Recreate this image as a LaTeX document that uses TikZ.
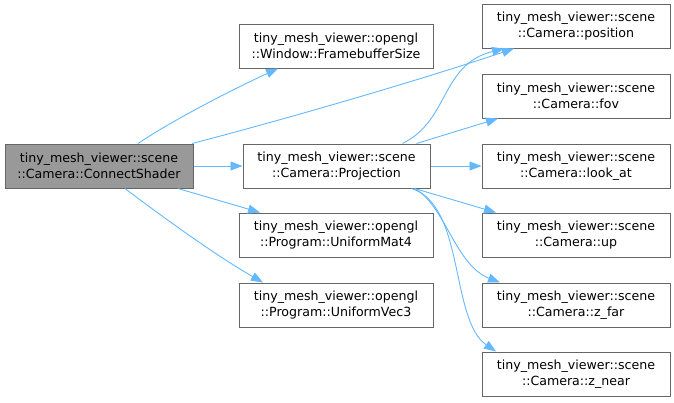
\documentclass[tikz,border=0pt]{standalone}
\usepackage{fontspec}
\setmainfont{DejaVu Sans}
\usetikzlibrary{arrows.meta}
\definecolor{edgeblue}{HTML}{63B8FF}
\definecolor{boxborder}{HTML}{666666}
\definecolor{focusfill}{HTML}{999999}
\tikzset{
  fn/.style={draw=boxborder, line width=1pt, fill=white, rectangle, inner sep=0pt,
    minimum height=44pt, align=center, text=black,
    font=\fontsize{12.6}{16.5}\selectfont},
  focus/.style={fn, fill=focusfill},
  call/.style={draw=edgeblue, line width=0.9pt, -{Triangle[length=12pt,width=9pt]}}
}
\begin{document}
\begin{tikzpicture}[x=1pt,y=-1pt]
\useasboundingbox (0,0) rectangle (674,402);
\node[focus, minimum width=188pt] (cs) at (99,166) {tiny\_mesh\_viewer::scene\\::Camera::ConnectShader};
\node[fn, minimum width=194pt] (fb) at (336,46) {tiny\_mesh\_viewer::opengl\\::Window::FramebufferSize};
\node[fn, minimum width=187pt] (pr) at (336.5,166) {tiny\_mesh\_viewer::scene\\::Camera::Projection};
\node[fn, minimum width=194pt] (m4) at (336,235) {tiny\_mesh\_viewer::opengl\\::Program::UniformMat4};
\node[fn, minimum width=194pt] (v3) at (336,305) {tiny\_mesh\_viewer::opengl\\::Program::UniformVec3};
\node[fn, minimum width=188pt] (pos) at (576,26) {tiny\_mesh\_viewer::scene\\::Camera::position};
\node[fn, minimum width=188pt] (fov) at (576,96) {tiny\_mesh\_viewer::scene\\::Camera::fov};
\node[fn, minimum width=188pt] (look) at (576,166) {tiny\_mesh\_viewer::scene\\::Camera::look\_at};
\node[fn, minimum width=188pt] (up) at (576,235) {tiny\_mesh\_viewer::scene\\::Camera::up};
\node[fn, minimum width=188pt] (zf) at (576,305) {tiny\_mesh\_viewer::scene\\::Camera::z\_far};
\node[fn, minimum width=188pt] (zn) at (576,374) {tiny\_mesh\_viewer::scene\\::Camera::z\_near};

\draw[call] ([xshift=39]cs.north) .. controls (170,122) and (225,93) .. ([xshift=-58]fb.south);
\draw[call] ([xshift=93]cs.north) .. controls (290,118) and (420,80) .. ([xshift=-62]pos.south);
\draw[call] (cs.east) -- (pr.west);
\draw[call] ([xshift=79]cs.south) -- ([xshift=-76]m4.north);
\draw[call] ([xshift=26]cs.south) .. controls (160,215) and (215,255) .. ([xshift=-73]v3.north);

\draw[call] ([xshift=66]pr.north) .. controls (450,120) and (440,65) .. ([xshift=-72]pos.south);
\draw[call] ([xshift=80]pr.north) -- ([xshift=-78]fov.south);
\draw[call] (pr.east) -- (look.west);
\draw[call] ([xshift=78]pr.south) -- ([xshift=-80]up.north);
\draw[call] ([xshift=78]pr.south) .. controls (445,205) and (455,265) .. ([xshift=-76]zf.north);
\draw[call] ([xshift=75]pr.south) .. controls (465,205) and (450,320) .. ([xshift=-80]zn.north);
\end{tikzpicture}
\end{document}
